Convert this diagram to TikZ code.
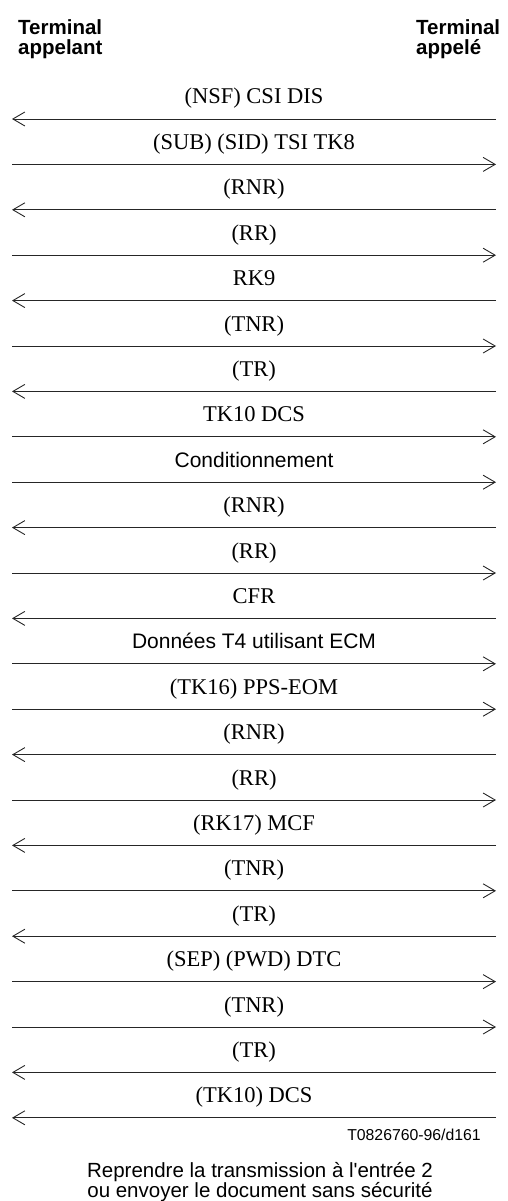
\documentclass[tikz,border=0pt]{standalone}
\usepackage{fontspec}
\setmainfont{Liberation Serif}
\setsansfont{Liberation Sans}
\usetikzlibrary{arrows.meta}

\begin{document}
\begin{tikzpicture}[x=1pt, y=-1pt,
  hdr/.style={font=\sffamily\bfseries\fontsize{20.5}{20}\selectfont, align=left, inner sep=0pt, anchor=north west},
  lbl/.style={font=\fontsize{22.5}{22}\selectfont, midway, anchor=base, yshift=15pt, inner sep=0pt},
  lbs/.style={lbl, font=\sffamily\fontsize{21}{21}\selectfont},
  ar/.style={-{Straight Barb[length=12pt,width=14pt]}, line width=0.9pt, draw=black!85}]
\useasboundingbox (0,0) rectangle (507,1201);
\node[hdr] (caller) at (18,19) {Terminal\\appelant};
\node[hdr] (callee) at (416,19) {Terminal\\appel\'e};
% message rows
\foreach \i in {1,...,23} {
  \coordinate (l\i) at (12, {119+45.4*(\i-1)});
  \coordinate (r\i) at (496, {119+45.4*(\i-1)});
}
\draw[ar] (r1) -- node[lbl] {(NSF) CSI DIS} (l1);
\draw[ar] (l2) -- node[lbl] {(SUB) (SID) TSI TK8} (r2);
\draw[ar] (r3) -- node[lbl] {(RNR)} (l3);
\draw[ar] (l4) -- node[lbl] {(RR)} (r4);
\draw[ar] (r5) -- node[lbl] {RK9} (l5);
\draw[ar] (l6) -- node[lbl] {(TNR)} (r6);
\draw[ar] (r7) -- node[lbl] {(TR)} (l7);
\draw[ar] (l8) -- node[lbl] {TK10 DCS} (r8);
\draw[ar] (l9) -- node[lbs] {Conditionnement} (r9);
\draw[ar] (r10) -- node[lbl] {(RNR)} (l10);
\draw[ar] (l11) -- node[lbl] {(RR)} (r11);
\draw[ar] (r12) -- node[lbl] {CFR} (l12);
\draw[ar] (l13) -- node[lbs] {Donn\'ees T4 utilisant ECM} (r13);
\draw[ar] (l14) -- node[lbl] {(TK16) PPS-EOM} (r14);
\draw[ar] (r15) -- node[lbl] {(RNR)} (l15);
\draw[ar] (l16) -- node[lbl] {(RR)} (r16);
\draw[ar] (r17) -- node[lbl] {(RK17) MCF} (l17);
\draw[ar] (l18) -- node[lbl] {(TNR)} (r18);
\draw[ar] (r19) -- node[lbl] {(TR)} (l19);
\draw[ar] (l20) -- node[lbl] {(SEP) (PWD) DTC} (r20);
\draw[ar] (l21) -- node[lbl] {(TNR)} (r21);
\draw[ar] (r22) -- node[lbl] {(TR)} (l22);
\draw[ar] (r23) -- node[lbl] {(TK10) DCS} (l23);
\node[font=\sffamily\fontsize{15.8}{16}\selectfont, anchor=base east, inner sep=0pt] (ref) at (481,1140) {T0826760-96/d161};
\node[font=\sffamily\fontsize{20.5}{18}\selectfont, align=center, anchor=north, inner sep=0pt] (note) at (260,1162)
  {Reprendre la transmission \`a l\textquotesingle entr\'ee 2\\ou envoyer le document sans s\'ecurit\'e};
\end{tikzpicture}
\end{document}
